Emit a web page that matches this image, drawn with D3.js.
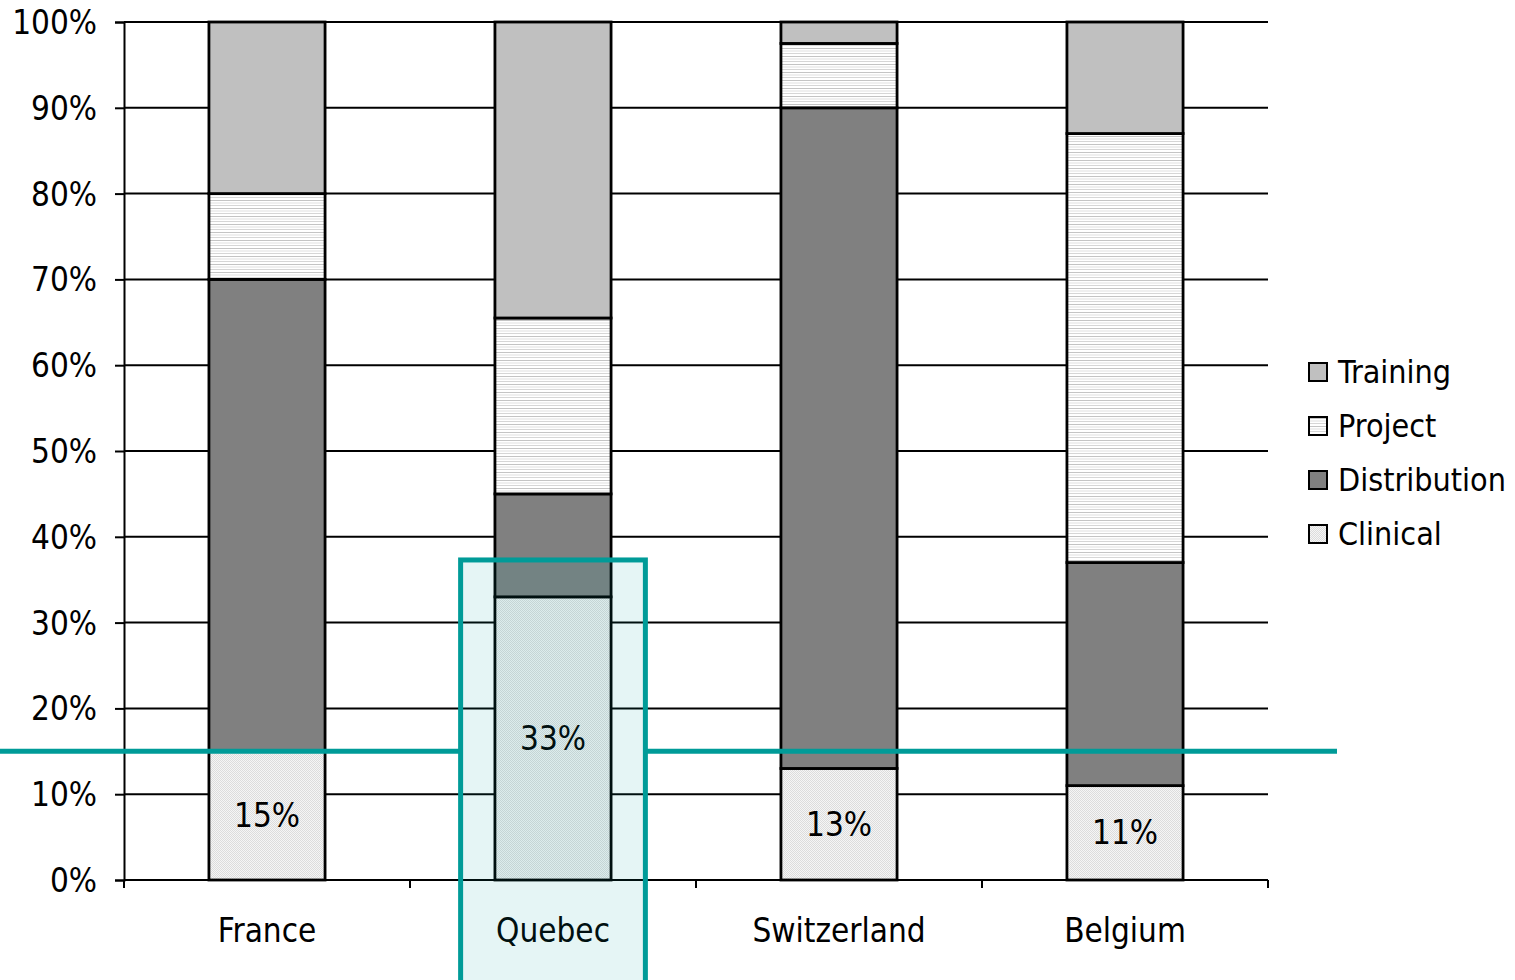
<!DOCTYPE html>
<html>
<head>
<meta charset="utf-8">
<script src="https://cdn.jsdelivr.net/npm/d3@7"></script>
<style>
  html, body { margin: 0; padding: 0; background: #fff; }
  svg text { font-family: "DejaVu Sans Condensed", "DejaVu Sans", sans-serif; font-stretch: condensed; fill: #000; }
</style>
</head>
<body>
<svg id="chart" width="1515" height="980"></svg>
<script>
// Share of activity by type, per country (percent of total)
const countries    = ["France", "Quebec", "Switzerland", "Belgium"];
const clinical     = [15, 33, 13, 11];
const distribution = [55, 12, 77, 26];
const project      = [10, 20.5, 7.5, 50];
const training     = [20, 34.5, 2.5, 13];
const yTicks       = [0, 10, 20, 30, 40, 50, 60, 70, 80, 90, 100];
const seriesKeys   = ["Clinical", "Distribution", "Project", "Training"];
const legendKeys   = ["Training", "Project", "Distribution", "Clinical"];
const labelledKey  = "Clinical";
// Reference level and highlighted country
const referenceLevel = 15;
const highlightCountry = "Quebec";
const highlightTop = 37.3;

const rows = countries.map((c, i) => ({
  country: c,
  Clinical: clinical[i],
  Distribution: distribution[i],
  Project: project[i],
  Training: training[i]
}));

const svg = d3.select("#chart");
const margin = { left: 124, right: 1268, top: 22, bottom: 880 };
const fontSize = 33;

const x = d3.scaleBand()
  .domain(countries)
  .range([margin.left, margin.right])
  .paddingInner(0.594)
  .paddingOuter(0.297);

const y = d3.scaleLinear().domain([0, 100]).range([margin.bottom, margin.top]);

// Fill patterns
const defs = svg.append("defs");
const pProj = defs.append("pattern").attr("id", "pat-project")
  .attr("patternUnits", "userSpaceOnUse").attr("width", 8).attr("height", 8);
pProj.append("rect").attr("width", 8).attr("height", 8).attr("fill", "#ffffff");
[[0.5, "#c4c4c4"], [3, "#e0e0e0"], [5.5, "#d6d6d6"]].forEach(([yy, c]) => {
  pProj.append("rect").attr("x", 0).attr("y", yy - 0.5).attr("width", 8).attr("height", 1).attr("fill", c);
});
const pClin = defs.append("pattern").attr("id", "pat-clinical")
  .attr("patternUnits", "userSpaceOnUse").attr("width", 2).attr("height", 2);
pClin.append("rect").attr("width", 2).attr("height", 2).attr("fill", "#f5f5f5");
pClin.append("rect").attr("width", 1).attr("height", 1).attr("fill", "#dcdcdc");
pClin.append("rect").attr("x", 1).attr("y", 1).attr("width", 1).attr("height", 1).attr("fill", "#dcdcdc");

const fills = {
  Training: "#c0c0c0",
  Project: "url(#pat-project)",
  Distribution: "#808080",
  Clinical: "url(#pat-clinical)"
};

// Gridlines
svg.append("g").selectAll("line").data(yTicks.filter(t => t > 0)).join("line")
  .attr("x1", margin.left).attr("x2", margin.right)
  .attr("y1", d => y(d)).attr("y2", d => y(d))
  .attr("stroke", "#000").attr("stroke-width", 2);

// Y axis
const yAxis = svg.append("g").attr("transform", `translate(${margin.left},0)`)
  .call(d3.axisLeft(y).tickValues(yTicks).tickSize(9).tickPadding(18).tickFormat(d => d + "%"));
yAxis.select(".domain").attr("stroke", "#000").attr("stroke-width", 2);
yAxis.selectAll(".tick line").attr("stroke", "#000").attr("stroke-width", 2);
yAxis.selectAll(".tick text").attr("font-size", fontSize).attr("font-family", null)
  .attr("dy", "0.35em").attr("fill", "#000");

// Stacked bars
const stacked = d3.stack().keys(seriesKeys)(rows);
const bars = svg.append("g");
stacked.forEach(layer => {
  bars.append("g").selectAll("rect").data(layer).join("rect")
    .attr("x", d => x(d.data.country))
    .attr("width", x.bandwidth())
    .attr("y", d => y(d[1]))
    .attr("height", d => y(d[0]) - y(d[1]))
    .attr("fill", fills[layer.key])
    .attr("stroke", "#000").attr("stroke-width", 2.8);
});

// Value labels on the bottom segment
const labelLayer = stacked.find(l => l.key === labelledKey);
svg.append("g").selectAll("text").data(labelLayer).join("text")
  .attr("x", d => x(d.data.country) + x.bandwidth() / 2)
  .attr("y", d => (y(d[0]) + y(d[1])) / 2)
  .attr("text-anchor", "middle").attr("dominant-baseline", "central")
  .attr("font-size", fontSize)
  .text(d => Math.round(d[1] - d[0]) + "%");

// X axis baseline and category boundary ticks
svg.append("line")
  .attr("x1", margin.left).attr("x2", margin.right)
  .attr("y1", y(0)).attr("y2", y(0))
  .attr("stroke", "#000").attr("stroke-width", 2);
const bounds = d3.range(countries.length + 1).map(i => margin.left + i * x.step());
svg.append("g").selectAll("line").data(bounds).join("line")
  .attr("x1", d => d).attr("x2", d => d)
  .attr("y1", y(0)).attr("y2", y(0) + 8)
  .attr("stroke", "#000").attr("stroke-width", 2);
svg.append("g").selectAll("text").data(countries).join("text")
  .attr("x", d => x(d) + x.bandwidth() / 2)
  .attr("y", y(0) + 50)
  .attr("text-anchor", "middle").attr("dominant-baseline", "central")
  .attr("font-size", fontSize)
  .text(d => d);

// Legend
const legend = svg.append("g").attr("transform", "translate(1309,372)");
legendKeys.forEach((k, i) => {
  const g = legend.append("g").attr("transform", `translate(0,${i * 54})`);
  g.append("rect").attr("x", 0).attr("y", -9).attr("width", 18).attr("height", 18)
    .attr("fill", fills[k]).attr("stroke", "#000").attr("stroke-width", 2);
  g.append("text").attr("x", 29).attr("y", 0).attr("dominant-baseline", "central")
    .attr("font-size", 32).text(k);
});

// Reference line and highlight box
const teal = "#009b98";
const hx = x(highlightCountry) + x.bandwidth() / 2;
const halfW = x.step() * 0.323;
const refY = y(referenceLevel);
svg.append("line").attr("x1", 0).attr("x2", hx - halfW)
  .attr("y1", refY).attr("y2", refY).attr("stroke", teal).attr("stroke-width", 5);
svg.append("line").attr("x1", hx + halfW).attr("x2", 1337)
  .attr("y1", refY).attr("y2", refY).attr("stroke", teal).attr("stroke-width", 5);
svg.append("rect")
  .attr("x", hx - halfW).attr("y", y(highlightTop))
  .attr("width", halfW * 2).attr("height", 980 - y(highlightTop) + 10)
  .attr("fill", "rgba(0,153,153,0.1)")
  .attr("stroke", teal).attr("stroke-width", 5);
</script>
</body>
</html>
